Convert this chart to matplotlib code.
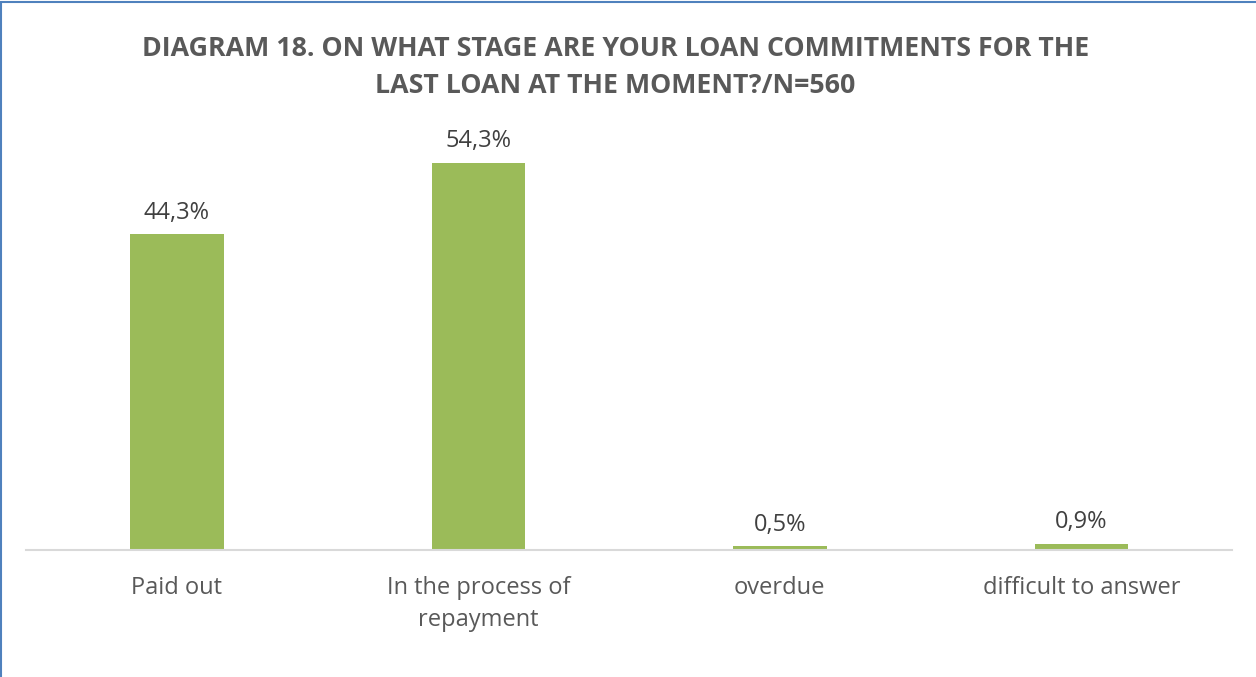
import matplotlib.pyplot as plt
from matplotlib.patches import Rectangle

categories = ['Paid out', 'In the process of\nrepayment', 'overdue', 'difficult to answer']
values = [44.3, 54.3, 0.5, 0.9]
labels = ['44,3%', '54,3%', '0,5%', '0,9%']

plt.rcParams['font.family'] = ['Open Sans', 'DejaVu Sans']

fig = plt.figure(figsize=(12.56, 6.77), dpi=100)
ax = fig.add_axes([0.0207, 0.1876, 0.9603, 0.6316])

x = range(len(categories))
bars = ax.bar(x, values, width=0.31, color='#9BBB59', zorder=2)

for b, lab in zip(bars, labels):
    ax.annotate(lab, (b.get_x() + b.get_width() / 2, b.get_height()),
                xytext=(0, 7), textcoords='offset points',
                ha='center', va='bottom', fontsize=17, color='#404040')

ax.set_xlim(-0.5, len(categories) - 0.5)
ax.set_ylim(0, 60)
ax.set_xticks(list(x))
ax.set_xticklabels(categories, fontsize=17, color='#595959', linespacing=1.4)
ax.tick_params(axis='x', length=0, pad=19)
ax.set_yticks([])
for s in ['top', 'right', 'left']:
    ax.spines[s].set_visible(False)
ax.spines['bottom'].set_color('#D9D9D9')
ax.spines['bottom'].set_linewidth(1.5)

fig.text(0.49, 0.9,
         'DIAGRAM 18. ON WHAT STAGE ARE YOUR LOAN COMMITMENTS FOR THE\nLAST LOAN AT THE MOMENT?/N=560',
         ha='center', va='center', fontsize=19.3, fontweight='bold',
         color='#595959', linespacing=1.55)

# chart frame
fig.patches.append(Rectangle((0.001, -0.01), 1.2, 1.007, transform=fig.transFigure,
                             fill=False, edgecolor='#4F81BD', linewidth=1.5))

fig.savefig('out.png', dpi=100)
